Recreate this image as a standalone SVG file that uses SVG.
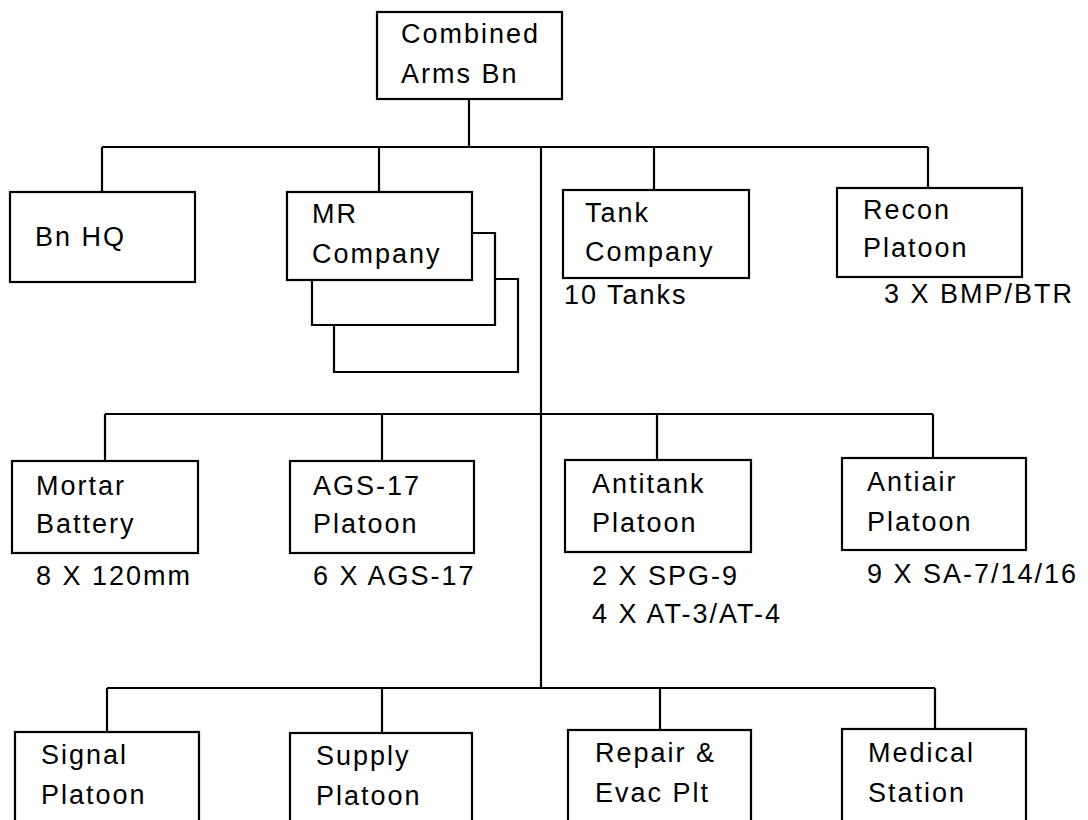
<svg xmlns="http://www.w3.org/2000/svg" width="1088" height="820" viewBox="0 0 1088 820">
<style>
.box{fill:#fff;stroke:#000;stroke-width:2.2}
.ln{fill:none;stroke:#000;stroke-width:2.2}
text{font-family:"Liberation Sans",Arial,Helvetica,sans-serif;font-size:27px;letter-spacing:2px;fill:#000}
</style>
<rect width="1088" height="820" fill="#fff"/>
<g id="connectors">
<path class="ln" d="M469 99V147M102 147H928M102 147V192M379 147V192M654 147V190M928 147V188"/>
<path class="ln" d="M541 147V688"/>
<path class="ln" d="M105 414H933M105 414V461M382 414V461M657 414V460M933 414V458"/>
<path class="ln" d="M107 688H935M107 688V732M382 688V733M660 688V730M935 688V729"/>
</g>
<g id="n-combined">
<rect class="box" x="377" y="12" width="185" height="87"/>
<text x="401" y="43">Combined</text>
<text x="401" y="83">Arms Bn</text>
</g>
<g id="n-bnhq">
<rect class="box" x="10" y="192" width="185" height="90"/>
<text x="35" y="246">Bn HQ</text>
</g>
<g id="n-mr">
<path class="ln" d="M495 279H518V372H334V325"/>
<path class="ln" d="M472 233H495V325H312V280"/>
<rect class="box" x="287" y="192" width="185" height="88"/>
<text x="312" y="223">MR</text>
<text x="312" y="263">Company</text>
</g>
<g id="n-tank">
<rect class="box" x="563" y="190" width="186" height="88"/>
<text x="585" y="222">Tank</text>
<text x="585" y="261">Company</text>
<text x="564" y="304">10 Tanks</text>
</g>
<g id="n-recon">
<rect class="box" x="837" y="188" width="185" height="89"/>
<text x="863" y="219">Recon</text>
<text x="863" y="257">Platoon</text>
<text x="884" y="303">3 X BMP/BTR</text>
</g>
<g id="n-mortar">
<rect class="box" x="12" y="461" width="186" height="92"/>
<text x="36" y="495">Mortar</text>
<text x="36" y="533">Battery</text>
<text x="36" y="585">8 X 120mm</text>
</g>
<g id="n-ags">
<rect class="box" x="290" y="461" width="184" height="92"/>
<text x="313" y="495">AGS-17</text>
<text x="313" y="533">Platoon</text>
<text x="313" y="585">6 X AGS-17</text>
</g>
<g id="n-antitank">
<rect class="box" x="565" y="460" width="186" height="92"/>
<text x="592" y="493">Antitank</text>
<text x="592" y="532">Platoon</text>
<text x="592" y="585">2 X SPG-9</text>
<text x="592" y="623">4 X AT-3/AT-4</text>
</g>
<g id="n-antiair">
<rect class="box" x="842" y="458" width="184" height="92"/>
<text x="867" y="491">Antiair</text>
<text x="867" y="531">Platoon</text>
<text x="867" y="583">9 X SA-7/14/16</text>
</g>
<g id="n-signal">
<rect class="box" x="15" y="732" width="184" height="100"/>
<text x="41" y="764">Signal</text>
<text x="41" y="804">Platoon</text>
</g>
<g id="n-supply">
<rect class="box" x="290" y="733" width="182" height="100"/>
<text x="316" y="765">Supply</text>
<text x="316" y="805">Platoon</text>
</g>
<g id="n-repair">
<rect class="box" x="568" y="730" width="183" height="100"/>
<text x="595" y="762">Repair &amp;</text>
<text x="595" y="802">Evac Plt</text>
</g>
<g id="n-medical">
<rect class="box" x="842" y="729" width="184" height="100"/>
<text x="868" y="762">Medical</text>
<text x="868" y="802">Station</text>
</g>
</svg>
